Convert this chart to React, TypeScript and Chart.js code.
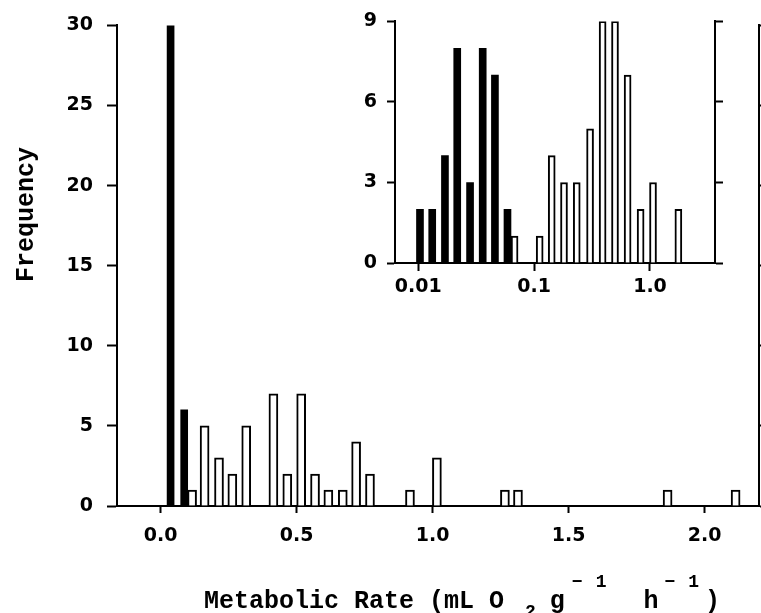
import React, { useEffect, useRef } from 'react';
import { Chart, registerables } from 'chart.js';

Chart.register(...registerables);

// ---- Main histogram (linear metabolic rate) ----
const mainBlackX = [0.037, 0.087];
const mainBlackY = [30, 6];
const mainWhiteX = [0.116, 0.162, 0.215, 0.264, 0.315, 0.415, 0.466, 0.517, 0.568, 0.617, 0.67, 0.719, 0.77, 0.917, 1.016, 1.266, 1.314, 1.864, 2.114];
const mainWhiteY = [1, 5, 3, 2, 5, 7, 2, 7, 2, 1, 1, 4, 2, 1, 3, 1, 1, 1, 1];
const mainXTicks = [0, 0.5, 1.0, 1.5, 2.0];
const mainXTickLabels = ['0.0', '0.5', '1.0', '1.5', '2.0'];
const mainYTicks = [0, 5, 10, 15, 20, 25, 30];

// ---- Inset histogram (log metabolic rate) ----
const insetBlackX = [0.01035, 0.0132, 0.017, 0.0217, 0.028, 0.036, 0.0459, 0.0589];
const insetBlackY = [2, 2, 4, 8, 3, 8, 7, 2];
const insetWhiteX = [0.0678, 0.1117, 0.1419, 0.1811, 0.2333, 0.304, 0.39, 0.499, 0.641, 0.83, 1.062, 1.758];
const insetWhiteY = [1, 1, 4, 3, 3, 5, 9, 9, 7, 2, 3, 2];
const insetXTicks = [0.01, 0.1, 1.0];
const insetXTickLabels = ['0.01', '0.1', '1.0'];
const insetYTicks = [0, 3, 6, 9];

const yTitle = 'Frequency';
// pieces of the x-axis title; sub: 1 = subscript, -1 = superscript
const xTitleParts = [
  { t: 'Metabolic Rate (mL O', sub: 0, gap: 0 },
  { t: '2', sub: 1, gap: 21 },
  { t: 'g', sub: 0, gap: 14 },
  { t: '\u22121', sub: -1, gap: 7 },
  { t: 'h', sub: 0, gap: 37 },
  { t: '\u22121', sub: -1, gap: 6 },
  { t: ')', sub: 0, gap: 6 },
];

const TICK_FONT = { family: '"DejaVu Sans", sans-serif', size: 19, weight: 'bold' };
const TITLE_FAMILY = '"Liberation Mono", "DejaVu Sans Mono", monospace';

const toPts = (xs: number[], ys: number[]) => xs.map((x, i) => ({ x, y: ys[i] }));

const fixedTicks = (values: number[]) => (scale: any) => {
  scale.ticks = values.map((v) => ({ value: v }));
};

const axisStyle = (tickLength: number) => ({
  border: { display: true, color: '#000', width: 2 },
  grid: { drawOnChartArea: false, drawTicks: true, tickLength, tickColor: '#000', tickWidth: 2, color: '#000', offset: false },
});

const titlePlugin = {
  id: 'axisTitles',
  afterDraw(chart: any) {
    const { ctx, chartArea } = chart;
    ctx.save();
    ctx.fillStyle = '#000';
    // y title
    ctx.font = `bold 25px ${TITLE_FAMILY}`;
    ctx.translate(chartArea.left - 90, chartArea.top + 189);
    ctx.rotate(-Math.PI / 2);
    ctx.textAlign = 'center';
    ctx.textBaseline = 'middle';
    ctx.fillText(yTitle, 0, 0);
    ctx.restore();

    // x title with sub/superscripts
    ctx.save();
    ctx.fillStyle = '#000';
    ctx.textAlign = 'left';
    ctx.textBaseline = 'alphabetic';
    const big = `bold 25px ${TITLE_FAMILY}`;
    const small = `bold 18px ${TITLE_FAMILY}`;
    let x = chartArea.left + 87;
    const baseY = chartArea.bottom + 102;
    xTitleParts.forEach((p) => {
      x += p.gap;
      if (p.sub === 0) {
        ctx.font = big;
        ctx.fillText(p.t, x, baseY);
        x += ctx.measureText(p.t).width;
      } else {
        ctx.font = small;
        const dy = p.sub === 1 ? 9 : -21;
        const chars = Array.from(p.t);
        chars.forEach((ch, i) => {
          ctx.fillText(ch, x, baseY + dy);
          x += ctx.measureText(ch).width + (i < chars.length - 1 ? 13 : 0);
        });
      }
    });
    ctx.restore();
  },
};

export default function App() {
  const mainRef = useRef<HTMLCanvasElement>(null);
  const insetRef = useRef<HTMLCanvasElement>(null);

  useEffect(() => {
    const main = new Chart(mainRef.current as HTMLCanvasElement, {
      type: 'bar',
      data: {
        datasets: [
          {
            data: toPts(mainBlackX, mainBlackY) as any,
            backgroundColor: '#000',
            borderWidth: 0,
            barThickness: 7,
          },
          {
            data: toPts(mainWhiteX, mainWhiteY) as any,
            backgroundColor: '#fff',
            borderColor: '#000',
            borderWidth: 2,
            barThickness: 9,
          },
        ],
      },
      options: {
        responsive: false,
        animation: false,
        devicePixelRatio: 1,
        grouped: false,
        layout: { padding: { top: 20, right: 2, left: 0, bottom: 0 } },
        plugins: { legend: { display: false }, tooltip: { enabled: false } },
        scales: {
          x: {
            type: 'linear',
            min: -0.16,
            max: 2.2,
            offset: false,
            afterBuildTicks: fixedTicks(mainXTicks),
            afterFit: (s: any) => { s.height = 107; },
            ticks: {
              font: TICK_FONT,
              color: '#000',
              padding: 12,
              maxRotation: 0,
              autoSkip: false,
              callback: (_v: any, i: number) => mainXTickLabels[i],
            },
            ...axisStyle(7),
          },
          y: {
            type: 'linear',
            position: 'left',
            min: 0,
            max: 30,
            afterBuildTicks: fixedTicks(mainYTicks),
            afterFit: (s: any) => { s.width = 117; },
            ticks: { font: TICK_FONT, color: '#000', padding: 14, autoSkip: false },
            ...axisStyle(10),
          },
          y2: {
            type: 'linear',
            position: 'right',
            min: 0,
            max: 30,
            afterBuildTicks: fixedTicks(mainYTicks),
            afterFit: (s: any) => { s.width = 0; },
            ticks: { callback: () => '' },
            ...axisStyle(8),
          },
        },
      } as any,
      plugins: [titlePlugin],
    });

    const inset = new Chart(insetRef.current as HTMLCanvasElement, {
      type: 'bar',
      data: {
        datasets: [
          {
            data: toPts(insetBlackX, insetBlackY) as any,
            backgroundColor: '#000',
            borderWidth: 0,
            barThickness: 7,
          },
          {
            data: toPts(insetWhiteX, insetWhiteY) as any,
            backgroundColor: '#fff',
            borderColor: '#000',
            borderWidth: 2,
            barThickness: 7,
          },
        ],
      },
      options: {
        responsive: false,
        animation: false,
        devicePixelRatio: 1,
        grouped: false,
        layout: { padding: { top: 20, right: 35, left: 0, bottom: 0 } },
        plugins: { legend: { display: false }, tooltip: { enabled: false } },
        scales: {
          x: {
            type: 'logarithmic',
            min: 0.0063,
            max: 3.64,
            offset: false,
            afterBuildTicks: fixedTicks(insetXTicks),
            afterFit: (s: any) => { s.height = 47; },
            ticks: {
              font: TICK_FONT,
              color: '#000',
              padding: 5,
              maxRotation: 0,
              autoSkip: false,
              callback: (_v: any, i: number) => insetXTickLabels[i],
            },
            ...axisStyle(8),
          },
          y: {
            type: 'linear',
            position: 'left',
            min: 0,
            max: 9,
            afterBuildTicks: fixedTicks(insetYTicks),
            afterFit: (s: any) => { s.width = 65; },
            ticks: { font: TICK_FONT, color: '#000', padding: 10, autoSkip: false },
            ...axisStyle(8),
          },
          y2: {
            type: 'linear',
            position: 'right',
            min: 0,
            max: 9,
            afterBuildTicks: fixedTicks(insetYTicks),
            afterFit: (s: any) => { s.width = 0; },
            ticks: { callback: () => '' },
            ...axisStyle(8),
          },
        },
      } as any,
    });

    return () => {
      main.destroy();
      inset.destroy();
    };
  }, []);

  return (
    <div style={{ position: 'fixed', left: 0, top: 0, width: 761, height: 613, background: '#fff' }}>
      <canvas ref={mainRef} width={761} height={613} style={{ position: 'absolute', left: 0, top: 0 }} />
      <canvas ref={insetRef} width={420} height={310} style={{ position: 'absolute', left: 330, top: 0 }} />
    </div>
  );
}
